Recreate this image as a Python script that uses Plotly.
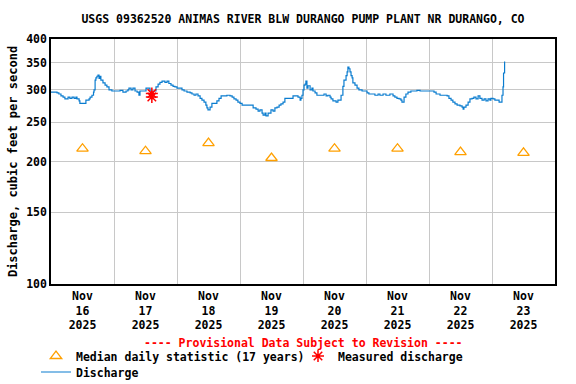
import pandas as pd
import plotly.graph_objects as go

TITLE = "USGS 09362520 ANIMAS RIVER BLW DURANGO PUMP PLANT NR DURANGO, CO"
START = "2025-11-16 00:00"

# Discharge (hours since Nov 16 00:00, cfs)
dis_hours = [0, 1.5, 2.3, 3.0, 3.8, 4.6, 5.3, 6.1, 6.5, 7.2, 8.0, 8.8, 9.5, 9.9, 10.7, 11.0, 13.0, 13.3,
             14.5, 14.9, 15.6, 16.2, 16.4, 16.8, 17.1, 17.5, 17.9, 18.3, 18.7, 19.0, 19.8, 20.6, 21.3,
             22.1, 23.2,
             24.4, 25.5, 26.3, 27.4, 28.6, 29.3, 29.7, 30.5, 31.2, 32.0, 32.8, 33.5, 33.9, 35.0, 36.2,
             37.3, 37.7, 38.9, 40.0, 40.8, 41.5, 42.3, 43.4, 44.2, 44.9, 45.7, 46.5, 47.2, 48.0,
             49.1, 49.9, 50.7, 51.8, 53.0, 53.7, 54.5, 55.2, 56.0, 56.8, 57.5, 58.3, 59.0, 59.4, 59.8,
             60.6, 61.3, 62.5, 63.2, 64.0, 64.8, 65.9, 67.0, 68.2, 69.0, 69.7, 70.5, 71.2, 72.0,
             72.8, 75.8, 77.0, 78.1, 78.9, 79.6, 80.4, 80.8, 81.5, 81.9, 82.7, 83.4, 83.8, 84.6, 85.3,
             86.1, 86.9, 87.6, 88.4, 89.1, 91.0, 92.2, 93.7, 94.1, 94.9, 95.2, 95.6, 96.0,
             96.4, 96.8, 97.1, 97.5, 97.9, 98.7, 99.4, 99.8, 100.6, 101.3, 103.2, 104.0, 104.8, 105.5,
             106.3, 106.7, 107.4, 108.6, 109.3, 110.1, 110.5, 111.2, 111.6, 112.4, 112.8, 113.1, 113.5,
             113.9, 114.3, 114.7, 115.0, 115.8, 116.6, 117.3, 118.5, 119.6,
             120.4, 121.1, 122.3, 123.4, 124.6, 125.3, 126.5, 127.6, 129.1, 130.3, 131.0, 131.8, 132.6,
             133.3, 133.7, 134.5, 135.2, 136.0, 137.1, 138.3, 139.4, 140.6, 142.1, 143.6,
             144.8, 145.9, 146.7, 148.2, 149.7, 150.9, 151.6, 152.4, 153.1, 153.9, 154.7, 155.8, 156.6,
             157.0, 157.3, 158.1, 158.9, 159.6, 160.4, 161.1, 161.9, 162.7, 163.4, 164.2, 165.0, 165.7,
             166.5, 167.2, 167.6,
             168.4, 169.1, 169.9, 170.7, 171.4, 171.8, 172.2, 172.4, 172.8]
dis_cfs = [296, 296, 295, 293, 290, 288, 285, 285, 288, 286, 288, 286, 288, 285, 282, 278, 278, 283,
           285, 288, 291, 296, 300, 317, 321, 324, 326, 320, 324, 317, 312, 308, 305,
           300, 298,
           298, 298, 299, 296, 298, 300, 303, 300, 303, 298, 296, 291, 298, 298, 303,
           303, 298, 298, 305, 310, 313, 315, 313, 315, 311, 308, 306, 305, 303,
           303, 300, 298, 296, 295, 293, 291, 293, 290, 286, 283, 280, 275, 271, 268,
           272, 278, 278, 282, 286, 290, 290, 291, 290, 288, 285, 283, 280, 278,
           275, 275, 271, 269, 266, 268, 263, 260, 263, 259, 263, 263, 268, 266, 271,
           272, 275, 277, 280, 286, 286, 290, 290, 288, 283, 286, 291, 300,
           308, 310, 315, 303, 307, 300, 303, 298, 295, 291, 291, 293, 290, 291,
           288, 285, 282, 280, 283, 283, 291, 306, 317, 325, 332, 341, 338,
           332, 325, 321, 312, 308, 303, 300, 298, 298,
           295, 293, 293, 291, 293, 291, 293, 291, 293, 290, 288, 286, 285,
           283, 280, 288, 293, 296, 298, 298, 299, 298, 298, 298,
           298, 296, 293, 291, 291, 290, 286, 283, 280, 277, 275, 274, 272,
           269, 272, 275, 280, 285, 286, 288, 285, 290, 286, 283, 285, 282,
           285, 283, 286,
           285, 283, 283, 280, 280, 291, 305, 330, 352]

# Median daily statistic (17 years), at noon of each day
med_dates = ["2025-11-16 12:00", "2025-11-17 12:00", "2025-11-18 12:00", "2025-11-19 12:00",
             "2025-11-20 12:00", "2025-11-21 12:00", "2025-11-22 12:00", "2025-11-23 12:00"]
med_cfs = [215, 212, 222, 204, 215, 215, 211, 210]

# Measured discharge
meas_dates = ["2025-11-17 14:25", "2025-11-17 14:25"]
meas_cfs = [294, 288]

# Axis ticks
x_tick_dates = med_dates
x_tick_text = ["Nov<br>16<br>2025", "Nov<br>17<br>2025", "Nov<br>18<br>2025", "Nov<br>19<br>2025",
               "Nov<br>20<br>2025", "Nov<br>21<br>2025", "Nov<br>22<br>2025", "Nov<br>23<br>2025"]
y_tick_vals = [100, 150, 200, 250, 300, 350, 400]

dis_times = pd.Timestamp(START) + pd.to_timedelta(dis_hours, unit="h")

FONT = "DejaVu Sans Mono"
fs = 11.5

fig = go.Figure()
fig.add_trace(go.Scatter(
    x=dis_times, y=dis_cfs, mode="lines", line=dict(color="#0a7ccf", width=1.2, shape="hv"),
    name="<b>Discharge</b>", legend="legend3", showlegend=True))
fig.add_trace(go.Scatter(
    x=med_dates, y=med_cfs, mode="markers",
    marker=dict(symbol="triangle-up-open", size=10, color="#ffa000", line=dict(width=1.3, color="#ffa000")),
    name="<b>Median daily statistic (17 years)</b>", legend="legend", showlegend=True))
fig.add_trace(go.Scatter(
    x=meas_dates, y=meas_cfs, mode="markers",
    marker=dict(symbol="asterisk-open", size=10, color="red", line=dict(width=1.5, color="red")),
    name="<b>Measured discharge</b>", legend="legend2", showlegend=True))

W, H = 576, 384
L, R, T, B = 51, 21, 39, 100
pw, ph = W - L - R, H - T - B

def py(pix):
    return (H - B - pix) / ph

def px(pix):
    return (pix - L) / pw

fig.update_layout(
    width=W, height=H, margin=dict(l=L, r=R, t=T, b=B, autoexpand=False),
    showlegend=True,
    paper_bgcolor="white", plot_bgcolor="white",
    font=dict(family=FONT, size=fs, color="black"),
    title=dict(text="<b>" + TITLE + "</b>", x=0.5, xref="paper", xanchor="center",
               y=1 - 19 / H, yref="container", yanchor="middle",
               font=dict(family=FONT, size=fs, color="black")),
    xaxis=dict(type="date", range=["2025-11-16 00:00", "2025-11-24 00:00"],
               tickvals=x_tick_dates, ticktext=["<b>" + t + "</b>" for t in x_tick_text],
               ticks="", showgrid=False, showline=True, linecolor="black", linewidth=1.5, mirror=True,
               minor=dict(dtick=86400000, tick0="2025-11-16", showgrid=True, gridcolor="#c8c8c8",
                          gridwidth=1, ticks=""),
               tickfont=dict(family=FONT, size=fs, color="black"), zeroline=False),
    yaxis=dict(type="log", range=[2, 2.60206], tickvals=y_tick_vals,
               ticktext=["<b>%d</b>" % v for v in y_tick_vals],
               ticks="", showgrid=True, gridcolor="#c8c8c8", gridwidth=1,
               showline=True, linecolor="black", linewidth=1.5, mirror=True,
               title=dict(text="<b>Discharge, cubic feet per second</b>", standoff=6,
                          font=dict(family=FONT, size=12, color="black")),
               tickfont=dict(family=FONT, size=fs, color="black"), zeroline=False),
    legend=dict(x=px(36), y=py(356), xanchor="left", yanchor="middle", orientation="h",
                bgcolor="rgba(0,0,0,0)", font=dict(family=FONT, size=fs, color="black")),
    legend2=dict(x=px(298), y=py(356), xanchor="left", yanchor="middle", orientation="h",
                 bgcolor="rgba(0,0,0,0)", font=dict(family=FONT, size=fs, color="black")),
    legend3=dict(x=px(36), y=py(372), xanchor="left", yanchor="middle", orientation="h",
                 bgcolor="rgba(0,0,0,0)", font=dict(family=FONT, size=fs, color="black")),
    annotations=[dict(text="<b>---- Provisional Data Subject to Revision ----</b>",
                      x=0.5, xref="paper", y=py(343), yref="paper", xanchor="center", yanchor="middle",
                      showarrow=False, font=dict(family=FONT, size=fs, color="red"))],
)

fig.write_html("out.html", config={"displayModeBar": False},
               post_script="document.body.style.margin='0';")
